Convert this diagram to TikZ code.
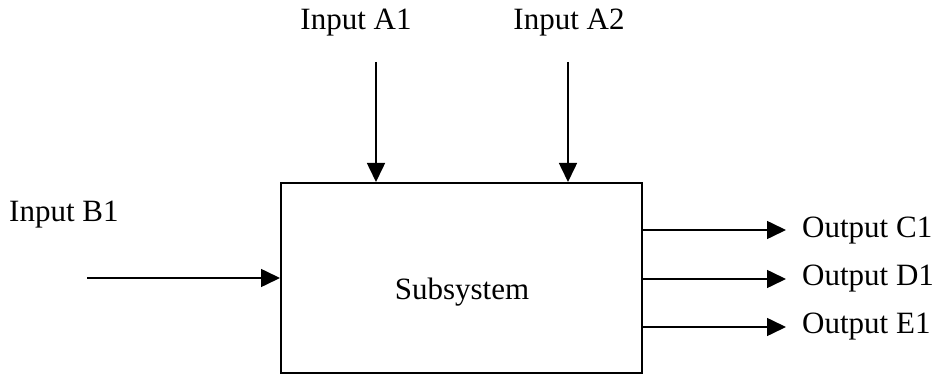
\documentclass[tikz,border=0pt]{standalone}
\usepackage{fontspec}
\setmainfont{Liberation Serif}
\usetikzlibrary{arrows.meta}
\begin{document}
\begin{tikzpicture}[x=1pt,y=-1pt,
  lbl/.style={inner sep=0pt,font=\fontsize{31}{35}\selectfont},
  flow/.style={line width=1.6pt,-{Triangle[length=19pt,width=18pt]}},
  sysbox/.style={draw,line width=1.6pt,minimum width=361pt,minimum height=190pt,inner sep=0pt}]
\useasboundingbox (0,0) rectangle (938,374);
\node[sysbox,anchor=north west] (sys) at (280,182) {};
\node[lbl] at (462,292) {Subsystem};
\node[lbl] (a1) at (356,23) {Input A1};
\node[lbl] (a2) at (569,23) {Input A2};
\node[lbl,anchor=west] (b1) at (9,215) {Input B1};
\coordinate (a1s) at (376,62);
\coordinate (a2s) at (568,62);
\coordinate (b1s) at (87,278);
\draw[flow] (a1s) -- (a1s |- sys.north);
\draw[flow] (a2s) -- (a2s |- sys.north);
\draw[flow] (b1s) -- (b1s -| sys.west);
\node[lbl,anchor=west] (c1) at (802,231) {Output C1};
\node[lbl,anchor=west] (d1) at (802,279) {Output D1};
\node[lbl,anchor=west] (e1) at (802,327) {Output E1};
\coordinate (c1e) at (786,230);
\coordinate (d1e) at (786,279);
\coordinate (e1e) at (786,327);
\draw[flow] (c1e -| sys.east) -- (c1e);
\draw[flow] (d1e -| sys.east) -- (d1e);
\draw[flow] (e1e -| sys.east) -- (e1e);
\end{tikzpicture}
\end{document}
